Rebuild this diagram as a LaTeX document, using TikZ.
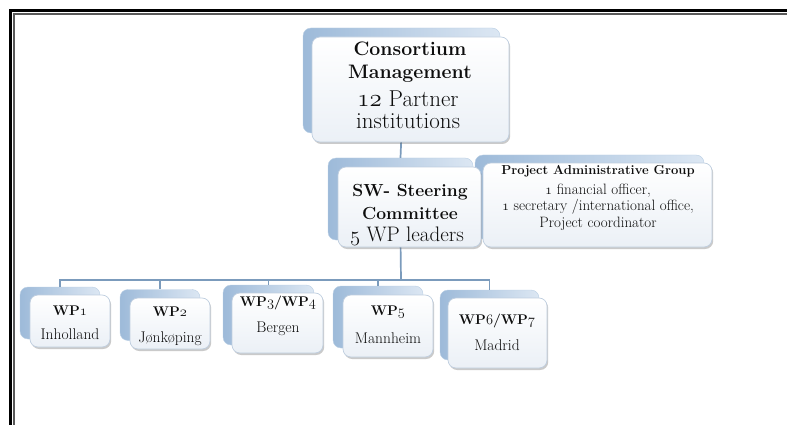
\documentclass[tikz,border=0pt]{standalone}
\usetikzlibrary{shadows}
\newcommand\osr[1]{{\usefont{OML}{lmm}{m}{it}#1}}
\newcommand\osb[1]{{\usefont{OML}{lmm}{b}{it}#1}}
\definecolor{conn}{HTML}{7B9BBC}
\definecolor{backL}{HTML}{9DBAD9}
\definecolor{backR}{HTML}{DCE7F3}
\definecolor{frontB}{HTML}{BFCEDF}
\definecolor{frontBot}{HTML}{EBF0F6}
\definecolor{txtc}{HTML}{0D0D0D}
\tikzset{
  backbox/.style={rounded corners=8pt, draw=backL!70!white, line width=0.4pt,
    left color=backL, right color=backR, inner sep=0pt},
  frontbox/.style={rounded corners=8pt, draw=frontB, line width=0.7pt,
    top color=white, bottom color=frontBot, inner sep=0pt,
    drop shadow={shadow xshift=1.2pt, shadow yshift=-2pt, opacity=0.35, fill=gray!80!black}},
  txt/.style={align=center, inner sep=0pt, text=txtc},
  connector/.style={draw=conn, line width=1.7pt},
  wptitle/.style={txt, font=\fontsize{14}{17}\selectfont\bfseries},
  wpsub/.style={txt, font=\fontsize{15.5}{18}\selectfont}
}
\begin{document}
\begin{tikzpicture}[x=1pt,y=-1pt]
\useasboundingbox (0,0) rectangle (787,425);
% frame
\draw[line width=3pt] (10.5,425) -- (10.5,11) -- (787,11);
\draw[line width=2pt, black!65] (14,425) -- (14,14) -- (787,14);
% back boxes
\node[backbox, minimum width=197pt, minimum height=105pt] (cmb) at (401.5,80.5) {};
\node[backbox, minimum width=145pt, minimum height=82pt] (swb) at (400.5,199) {};
\node[backbox, minimum width=229pt, minimum height=84pt] (pagb) at (589.5,197) {};
\node[backbox, minimum width=80pt, minimum height=52pt] (wp1b) at (60,313) {};
\node[backbox, minimum width=80pt, minimum height=51pt] (wp2b) at (160,315) {};
\node[backbox, minimum width=91pt, minimum height=60pt] (wp3b) at (268.5,315) {};
\node[backbox, minimum width=90pt, minimum height=62pt] (wp5b) at (378,317) {};
\node[backbox, minimum width=99pt, minimum height=70pt] (wp6b) at (489.5,325) {};
% connectors
\coordinate (bus) at (401,280);
\draw[connector] (cmb.south) -- (swb.north);
\draw[connector] (swb.south) -- (bus);
\draw[connector] (bus) -| (wp1b.north);
\draw[connector] (bus) -| (wp2b.north);
\draw[connector] (bus) -| (wp3b.north);
\draw[connector] (bus) -| (wp5b.north);
\draw[connector] (bus) -| (wp6b.north);
% front boxes
\node[frontbox, minimum width=197pt, minimum height=105pt] (cm) at (410.5,89.5) {};
\node[frontbox, minimum width=143pt, minimum height=80pt] (sw) at (409.5,207) {};
\node[frontbox, minimum width=229pt, minimum height=84pt] (pag) at (597.5,205) {};
\node[frontbox, minimum width=80pt, minimum height=52pt] (wp1) at (70,321) {};
\node[frontbox, minimum width=80pt, minimum height=51pt] (wp2) at (170,323.5) {};
\node[frontbox, minimum width=91pt, minimum height=60pt] (wp3) at (277.5,323) {};
\node[frontbox, minimum width=90pt, minimum height=62pt] (wp5) at (388,326) {};
\node[frontbox, minimum width=99pt, minimum height=70pt] (wp6) at (497.5,333) {};
% texts
\node[txt, font=\fontsize{19.5}{23}\selectfont\bfseries] (cmt1) at (410,62)
  {Consortium\\Management};
\node[txt, font=\fontsize{23}{22}\selectfont] (cmt2) at (408,110)
  {\osr{12} Partner\\institutions};
\node[txt, font=\fontsize{17.5}{23}\selectfont\bfseries] (swt1) at (410,202)
  {SW- Steering\\Committee};
\node[txt, font=\fontsize{21}{23}\selectfont] (swt2) at (407,236)
  {\osr{5} WP leaders};
\node[txt, font=\fontsize{13}{16}\selectfont\bfseries] (pagt1) at (598,171)
  {Project Administrative Group};
\node[txt, font=\fontsize{15}{16.5}\selectfont] (pagt2) at (598,207)
  {\osr{1} financial officer,\\\osr{1} secretary /international office,\\Project coordinator};
\node[wptitle] (wp1t) at (70,311) {WP\osb{1}};
\node[wpsub] (wp1s) at (70,334) {Inholland};
\node[wptitle] (wp2t) at (170,312) {WP\osb{2}};
\node[wpsub] (wp2s) at (170,338.5) {Jønkøping};
\node[wptitle] (wp3t) at (278,303) {WP\osb{3}/WP\osb{4}};
\node[wpsub] (wp3s) at (278,328.5) {Bergen};
\node[wptitle] (wp5t) at (388,312) {WP\osb{5}};
\node[wpsub] (wp5s) at (388,338) {Mannheim};
\node[wptitle] (wp6t) at (497,321) {WP\osb{6}/WP\osb{7}};
\node[wpsub] (wp6s) at (497,345) {Madrid};
\end{tikzpicture}
\end{document}
